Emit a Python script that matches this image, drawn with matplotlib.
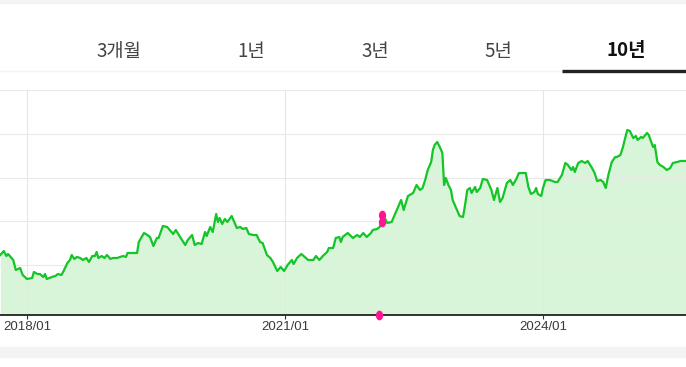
import matplotlib
matplotlib.use("Agg")
import matplotlib.pyplot as plt
from matplotlib.path import Path
import numpy as np

# ---- data (x = decimal year, level = price level, unlabeled axis) ----
dates = [
    2017.69, 2017.73, 2017.76, 2017.78, 2017.80, 2017.84, 2017.87, 2017.92, 2017.95, 2018.00,
    2018.06, 2018.08, 2018.12, 2018.15, 2018.19, 2018.21, 2018.23, 2018.29, 2018.33, 2018.36,
    2018.40, 2018.42, 2018.47, 2018.50, 2018.52, 2018.55, 2018.58, 2018.62, 2018.65, 2018.69,
    2018.72, 2018.76, 2018.79, 2018.81, 2018.83, 2018.87, 2018.90, 2018.93, 2018.97, 2019.00,
    2019.05, 2019.08, 2019.12, 2019.15, 2019.17, 2019.23, 2019.28, 2019.30, 2019.36, 2019.40,
    2019.43, 2019.47, 2019.51, 2019.53, 2019.58, 2019.63,
    2019.66, 2019.70, 2019.73, 2019.78, 2019.84, 2019.87, 2019.92, 2019.95, 2019.99, 2020.03,
    2020.07, 2020.09, 2020.13, 2020.16, 2020.20, 2020.22, 2020.24, 2020.27, 2020.30, 2020.33,
    2020.38, 2020.41, 2020.44, 2020.48, 2020.51, 2020.55, 2020.58, 2020.63, 2020.67, 2020.71,
    2020.74, 2020.79, 2020.83, 2020.86, 2020.91, 2020.95, 2020.99, 2021.03, 2021.08, 2021.10,
    2021.14, 2021.19, 2021.23, 2021.27, 2021.33, 2021.36, 2021.40, 2021.44, 2021.49, 2021.51,
    2021.56, 2021.59, 2021.63,
    2021.65, 2021.67, 2021.73, 2021.79, 2021.84, 2021.87, 2021.91, 2021.95, 2022.00, 2022.02,
    2022.07, 2022.10, 2022.16, 2022.19, 2022.24, 2022.30, 2022.35, 2022.38, 2022.43, 2022.49,
    2022.53, 2022.57, 2022.60, 2022.63, 2022.66, 2022.70, 2022.72, 2022.74, 2022.77, 2022.80,
    2022.83, 2022.85, 2022.87, 2022.90, 2022.93, 2022.95, 2023.00, 2023.03, 2023.07, 2023.09,
    2023.12, 2023.15, 2023.17, 2023.21, 2023.23, 2023.27, 2023.30, 2023.35, 2023.40, 2023.43,
    2023.47, 2023.50, 2023.53, 2023.58,
    2023.62, 2023.65, 2023.69, 2023.72, 2023.76, 2023.80, 2023.83, 2023.86, 2023.90, 2023.92,
    2023.94, 2023.98, 2024.00, 2024.03, 2024.08, 2024.14, 2024.17, 2024.22, 2024.26, 2024.29,
    2024.33, 2024.35, 2024.37, 2024.41, 2024.45, 2024.49, 2024.52, 2024.57, 2024.60, 2024.63,
    2024.67, 2024.70, 2024.73, 2024.76, 2024.80, 2024.84, 2024.86, 2024.90, 2024.93, 2024.95,
    2024.98, 2025.01, 2025.05, 2025.08, 2025.10, 2025.14, 2025.16, 2025.21, 2025.23, 2025.28,
    2025.30, 2025.33, 2025.36, 2025.40, 2025.44, 2025.48, 2025.51, 2025.56, 2025.60, 2025.66,
]

level = [
    60, 64, 59, 61, 59, 55, 45, 47, 40, 36,
    37, 43, 41, 41, 38, 41, 36, 38, 39, 41,
    40, 43, 52, 55, 60, 56, 58, 57, 55, 57,
    53, 59, 59, 63, 57, 59, 57, 60, 56, 57,
    57, 58, 59, 58, 62, 62, 62, 73, 82, 80,
    78, 69, 77, 77, 89, 88,
    85, 81, 85, 78, 70, 75, 80, 70, 72, 71,
    83, 79, 88, 83, 101, 93, 97, 91, 96, 93,
    99, 93, 87, 88, 86, 87, 81, 80, 80, 73,
    72, 60, 57, 53, 44, 48, 44, 50, 55, 51,
    57, 61, 58, 55, 55, 59, 55, 59, 63, 67,
    67, 77, 78,
    73, 78, 82, 77, 80, 78, 82, 78, 82, 85,
    86, 88, 97, 92, 93, 105, 115, 105, 119, 122,
    130, 125, 127, 135, 145, 153, 165, 170, 173, 168,
    162, 130, 137, 130, 125, 115, 105, 99, 98, 108,
    125, 127, 122, 128, 123, 127, 136, 135, 125, 115,
    127, 113, 117, 132,
    135, 130, 136, 142, 142, 142, 128, 121, 123, 127,
    121, 119, 127, 135, 135, 133, 133, 140, 152, 150,
    145, 148, 143, 152, 154, 152, 154, 147, 142, 134,
    135, 133, 127, 140, 153, 158, 158, 160, 168, 175,
    185, 184, 177, 179, 175, 178, 177, 182, 180, 168,
    170, 153, 150, 148, 145, 147, 152, 153, 154, 154,
]

# event markers (magenta)
event_dates = [2022.13, 2022.13]
event_levels = [100, 93]
axis_event_date = 2022.09

tick_years = [2018, 2021, 2024]
tick_labels = ["2018/01", "2021/01", "2024/01"]
tabs = ["3개월", "1년", "3년", "5년", "10년"]

x_min, x_max = 2017.686, 2025.663
grid_levels = np.arange(50, 226, 43.75)

# ---- figure ----
fig = plt.figure(figsize=(6.86, 3.67), dpi=100)
fig.patch.set_facecolor("white")

# page bands
fig.patches.append(plt.Rectangle((0, 364 / 367), 1, 3 / 367, transform=fig.transFigure,
                                 color="#f2f3f5", zorder=0))
fig.patches.append(plt.Rectangle((0, 10 / 367), 1, 10 / 367, transform=fig.transFigure,
                                 color="#f2f3f5", zorder=0))

# tab row
tab_x = [119, 251, 375, 498, 626]
for i, t in enumerate(tabs):
    last = i == len(tabs) - 1
    fig.text(tab_x[i] / 686, 1 - 51 / 367, t, ha="center", va="center",
             fontsize=13.5, family=["Noto Sans CJK KR", "DejaVu Sans"],
             fontweight="bold" if last else "normal",
             color="#111111" if last else "#444444")
fig.lines.append(plt.Line2D([0, 1], [1 - 71 / 367] * 2, transform=fig.transFigure,
                            color="#f4f4f4", lw=1))
fig.lines.append(plt.Line2D([562 / 686, 1], [1 - 71 / 367] * 2, transform=fig.transFigure,
                            color="#222222", lw=2.4, solid_capstyle="butt"))

# chart
ax = fig.add_axes([0, 52 / 367, 1, 225 / 367])
ax.set_xlim(x_min, x_max)
ax.set_ylim(0, 225)

ax.fill_between(dates, level, 0, color="#d9f5d9", lw=0, zorder=1)
ax.plot(dates, level, color="#13c526", lw=1.6, zorder=3)

for g in grid_levels:
    ax.axhline(g, color="#e9e9e9", lw=0.8, zorder=2)
for yr in tick_years:
    ax.axvline(yr, color="#e6e6e6", lw=0.8, zorder=2)

oval = Path(np.column_stack([np.cos(np.linspace(0, 2 * np.pi, 40)),
                             1.35 * np.sin(np.linspace(0, 2 * np.pi, 40))]))
ax.plot(event_dates, event_levels, ls="none", marker=oval, ms=7,
        color="#ff1493", mec="none", zorder=4)
ax.plot([axis_event_date], [0], ls="none", marker=oval, ms=7,
        color="#ff1493", mec="none", zorder=6, clip_on=False)

ax.set_yticks([])
ax.set_xticks(tick_years)
ax.set_xticklabels(tick_labels, family=["Liberation Sans", "DejaVu Sans"],
                   fontsize=9.5, color="#3a3a3a")
ax.tick_params(axis="x", length=3, width=0.8, color="#333333", pad=1.5)
for s in ["left", "right", "top"]:
    ax.spines[s].set_visible(False)
ax.spines["bottom"].set_color("#222222")
ax.spines["bottom"].set_linewidth(1.3)
ax.patch.set_alpha(0)

fig.savefig("out.png", dpi=100)
